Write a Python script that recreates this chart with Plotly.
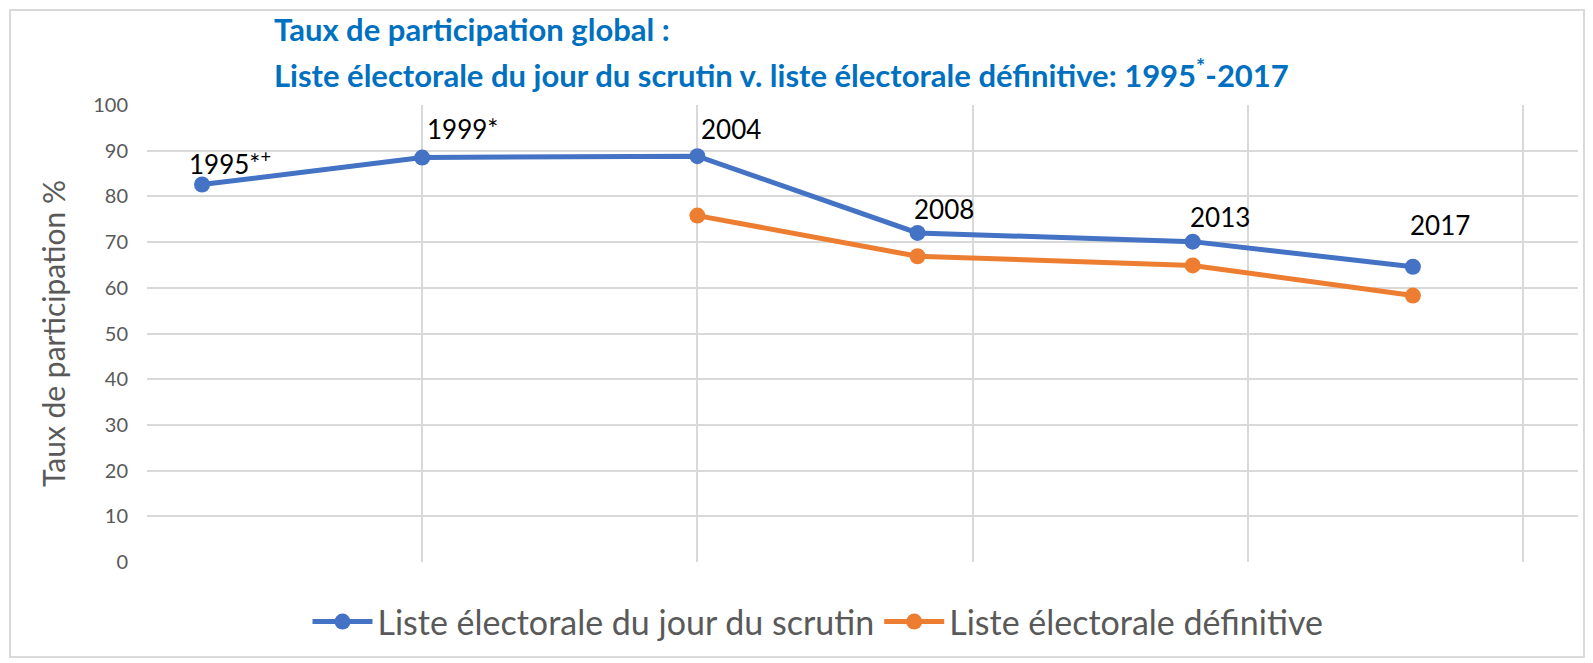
import plotly.graph_objects as go

years_jour = [1995, 1999, 2004, 2008, 2013, 2017]
taux_jour = [82.6, 88.5, 88.8, 72.0, 70.1, 64.6]
years_def = [2004, 2008, 2013, 2017]
taux_def = [75.8, 66.9, 64.9, 58.3]
point_labels = ["1995*<sup>+</sup>", "1999*", "2004", "2008", "2013", "2017"]
# label offsets in pixels (style)
label_dx = [-15, 3, 2, -6, -5, -5]
label_dy = [22, 29, 27, 24, 25, 42]

BLUE = "#4472C4"
ORANGE = "#ED7D31"
FONT = "Lato"

# The page has an 8px body margin; figure is sized to fill the rest.
OFF = 8
W, H = 1593 - OFF, 663 - OFF
L, R, T, B = 147 - OFF, 15, 105 - OFF, 101
PW, PH = W - L - R, H - T - B


def px(X):
    return (X - 147) / PW


def py(Y):
    return (562 - Y) / PH


fig = go.Figure()
fig.add_trace(go.Scatter(
    x=years_jour, y=taux_jour, mode="lines+markers",
    name="Liste électorale du jour du scrutin",
    line=dict(color=BLUE, width=5),
    marker=dict(color=BLUE, size=16),
))
fig.add_trace(go.Scatter(
    x=years_def, y=taux_def, mode="lines+markers",
    name="Liste électorale définitive",
    line=dict(color=ORANGE, width=5),
    marker=dict(color=ORANGE, size=16),
))

annotations = []
for x, y, t, dx, dy in zip(years_jour, taux_jour, point_labels, label_dx, label_dy):
    annotations.append(dict(
        x=x, y=y, xref="x", yref="y", text=t, showarrow=False,
        xanchor="left", yanchor="middle", xshift=dx, yshift=dy,
        font=dict(family=FONT, size=26, color="#000000"),
    ))

annotations.append(dict(
    x=px(272), y=py(29), xref="paper", yref="paper", xanchor="left", yanchor="middle",
    text="<b>Taux de participation global :</b>", showarrow=False,
    font=dict(family=FONT, size=31, color="#0070C0"),
))
annotations.append(dict(
    x=px(272), y=py(74), xref="paper", yref="paper", xanchor="left", yanchor="middle",
    text="<b>Liste électorale du jour du scrutin v. liste électorale définitive: 1995<sup>*</sup>-2017</b>",
    showarrow=False,
    font=dict(family=FONT, size=31, color="#0070C0"),
))
annotations.append(dict(
    x=px(53), y=py(334), xref="paper", yref="paper", xanchor="center", yanchor="middle",
    text="Taux de participation %", textangle=-90, showarrow=False,
    font=dict(family=FONT, size=30, color="#595959"),
))

fig.update_layout(
    width=W, height=H,
    margin=dict(l=L, r=R, t=T, b=B),
    paper_bgcolor="white", plot_bgcolor="white",
    showlegend=True,
    legend=dict(
        orientation="h", x=px(818), xanchor="center", y=py(622), yanchor="middle",
        font=dict(family=FONT, size=34, color="#595959"),
        itemwidth=60, tracegroupgap=0,
    ),
    annotations=annotations,
    shapes=[dict(
        type="rect", xref="paper", yref="paper",
        x0=px(10), x1=px(1584),
        y0=py(657), y1=py(10),
        line=dict(color="#D9D9D9", width=2), layer="below",
    )],
)
fig.update_xaxes(
    range=[1994, 2020], tick0=1994, dtick=5, showticklabels=False,
    showgrid=True, gridcolor="#D9D9D9", gridwidth=1.5,
    zeroline=False, showline=False,
)
fig.update_yaxes(
    range=[0, 100], dtick=10, showgrid=True, gridcolor="#D9D9D9", gridwidth=1.5,
    zeroline=False, showline=False,
    tickfont=dict(family=FONT, size=20, color="#595959"),
    ticklabelstandoff=18,
)

fig.write_html("out.html")
